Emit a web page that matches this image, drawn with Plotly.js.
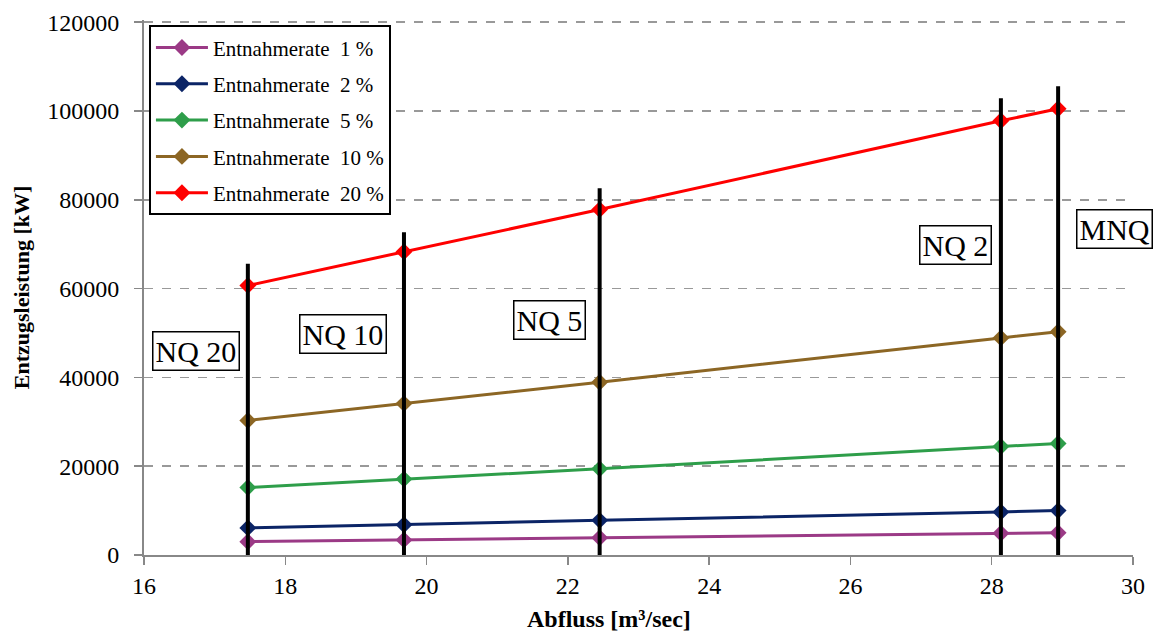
<!DOCTYPE html>
<html><head><meta charset="utf-8">
<script src="https://cdn.plot.ly/plotly-3.0.1.min.js"></script>
<style>html,body{margin:0;padding:0;background:#fff}#c{width:1162px;height:632px}</style>
</head><body><div id="c"></div>
<script>
const abfluss = [17.47, 19.68, 22.45, 28.13, 28.94];
const seriesNames = ["Entnahmerate\u00a0 1 %", "Entnahmerate\u00a0 2 %", "Entnahmerate\u00a0 5 %", "Entnahmerate\u00a0 10 %", "Entnahmerate\u00a0 20 %"];
const rate1 = [3000, 3400, 3900, 4900, 5000];
const rate2 = [6100, 6800, 7800, 9700, 10000];
const rate5 = [15200, 17100, 19400, 24450, 25100];
const rate10 = [30300, 34100, 38900, 48900, 50300];
const rate20 = [60700, 68300, 77800, 97800, 100500];
const markerTops = [65600, 72700, 82600, 102900, 105600];
const markerLabels = ["NQ 20", "NQ 10", "NQ 5", "NQ 2", "MNQ"];
const labelX = [16.74, 18.82, 21.74, 27.49, 29.74];
const labelY = [45900, 49800, 52900, 69800, 73400];
const colors = ["#9B3A86", "#0B2466", "#2E9E4A", "#8C6624", "#FF0000"];
const allSeries = [rate1, rate2, rate5, rate10, rate20];
const xTitle = "Abfluss [m³/sec]";
const yTitle = "Entzugsleistung [kW]";

const font = "'Liberation Serif', 'Times New Roman', serif";
const traces = [];
allSeries.forEach((vals, i) => {
  traces.push({
    x: abfluss, y: vals, name: seriesNames[i], type: "scatter", mode: "lines+markers",
    line: {color: colors[i], width: 3}, marker: {symbol: "diamond", size: 13, color: colors[i]},
    legendgroup: "g" + i
  });
});
abfluss.forEach((xv, i) => {
  traces.push({
    x: [xv, xv], y: [0, markerTops[i]], mode: "lines", showlegend: false,
    line: {color: "#000", width: 4}, hoverinfo: "skip"
  });
});

const annotations = markerLabels.map((t, i) => ({
  x: labelX[i], y: labelY[i], xref: "x", yref: "y", text: t, showarrow: false,
  font: {family: font, size: 30, color: "#000"}, bgcolor: "#fff",
  bordercolor: "#000", borderwidth: 1.5, borderpad: 2
}));
annotations.push({
  x: 0.47, y: -0.12, xref: "paper", yref: "paper", xanchor: "center", yanchor: "middle",
  text: "<b>" + xTitle + "</b>", showarrow: false,
  font: {family: font, size: 24, color: "#000"}
});

const layout = {
  width: 1162, height: 632,
  margin: {l: 144, r: 29, t: 20, b: 77},
  paper_bgcolor: "#fff", plot_bgcolor: "#fff",
  font: {family: font, color: "#000"},
  showlegend: true,
  legend: {
    x: 0.005, y: 0.99, xanchor: "left", yanchor: "top",
    bgcolor: "#fff", bordercolor: "#000", borderwidth: 2,
    font: {family: font, size: 21, color: "#000"},
    traceorder: "grouped", tracegroupgap: 6, itemwidth: 52
  },
  xaxis: {
    range: [16, 30], dtick: 2, tick0: 16, showgrid: false, zeroline: false,
    showline: true, linecolor: "#888", linewidth: 2,
    ticks: "outside", ticklen: 8, tickcolor: "#888", tickwidth: 1.5,
    tickfont: {family: font, size: 24, color: "#000"}
  },
  yaxis: {
    range: [0, 120500], dtick: 20000, tick0: 0, zeroline: false,
    showgrid: true, gridcolor: "#999", griddash: "dash", gridwidth: 1.5,
    showline: true, linecolor: "#888", linewidth: 2,
    ticks: "outside", ticklen: 8, tickcolor: "#888", tickwidth: 1.5,
    ticklabelstandoff: 10,
    tickformat: "d",
    tickfont: {family: font, size: 24, color: "#000"},
    title: {text: "<b>" + yTitle + "</b>", font: {family: font, size: 22, color: "#000"}, standoff: 12}
  },
  annotations: annotations
};
Plotly.newPlot("c", traces, layout, {displayModeBar: false, staticPlot: true});
</script></body></html>
